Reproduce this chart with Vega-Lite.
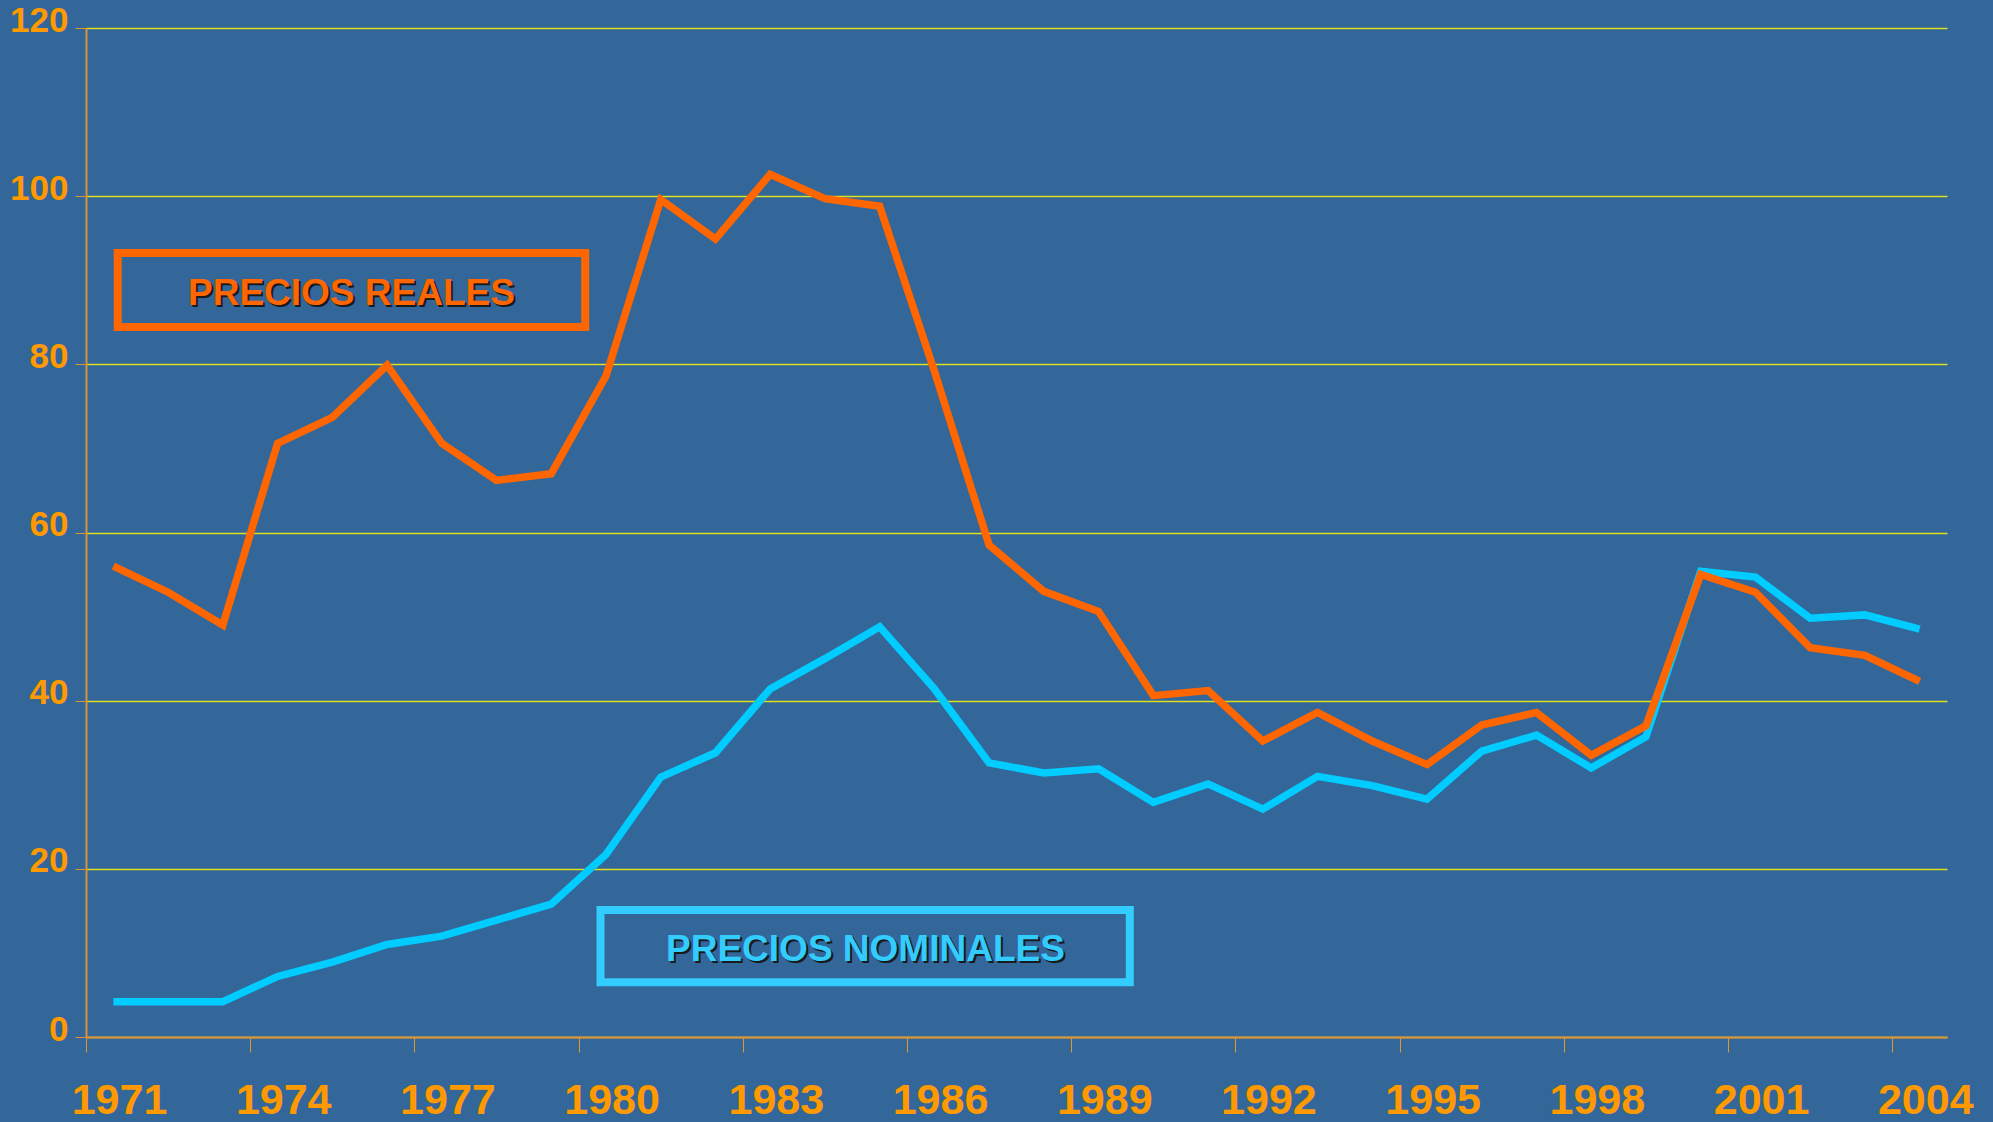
{
  "$schema": "https://vega.github.io/schema/vega-lite/v6.json",
  "width": 1861,
  "height": 1009,
  "autosize": {"type": "none"},
  "padding": {"left": 86, "top": 28, "right": 46, "bottom": 85},
  "background": "#336699",
  "config": {
    "view": {"stroke": null},
    "font": "Liberation Sans"
  },
  "datasets": {
    "prices": [
      {"year": 1971, "real": 56.0, "nominal": 4.2},
      {"year": 1972, "real": 52.9, "nominal": 4.2},
      {"year": 1973, "real": 49.0, "nominal": 4.2},
      {"year": 1974, "real": 70.6, "nominal": 7.2},
      {"year": 1975, "real": 73.7, "nominal": 8.9},
      {"year": 1976, "real": 79.9, "nominal": 11.0},
      {"year": 1977, "real": 70.6, "nominal": 12.0},
      {"year": 1978, "real": 66.2, "nominal": 13.9},
      {"year": 1979, "real": 67.0, "nominal": 15.8},
      {"year": 1980, "real": 78.6, "nominal": 21.7},
      {"year": 1981, "real": 99.6, "nominal": 30.9},
      {"year": 1982, "real": 94.9, "nominal": 33.8},
      {"year": 1983, "real": 102.6, "nominal": 41.4},
      {"year": 1984, "real": 99.7, "nominal": 45.0},
      {"year": 1985, "real": 98.8, "nominal": 48.8},
      {"year": 1986, "real": 79.2, "nominal": 41.4},
      {"year": 1987, "real": 58.5, "nominal": 32.6},
      {"year": 1988, "real": 53.0, "nominal": 31.4},
      {"year": 1989, "real": 50.6, "nominal": 31.9},
      {"year": 1990, "real": 40.6, "nominal": 27.9},
      {"year": 1991, "real": 41.2, "nominal": 30.1},
      {"year": 1992, "real": 35.2, "nominal": 27.1},
      {"year": 1993, "real": 38.6, "nominal": 31.0},
      {"year": 1994, "real": 35.2, "nominal": 29.9},
      {"year": 1995, "real": 32.4, "nominal": 28.3},
      {"year": 1996, "real": 37.1, "nominal": 34.0},
      {"year": 1997, "real": 38.6, "nominal": 35.9},
      {"year": 1998, "real": 33.5, "nominal": 32.0},
      {"year": 1999, "real": 37.0, "nominal": 35.7},
      {"year": 2000, "real": 55.0, "nominal": 55.4},
      {"year": 2001, "real": 52.9, "nominal": 54.7},
      {"year": 2002, "real": 46.3, "nominal": 49.8},
      {"year": 2003, "real": 45.4, "nominal": 50.2},
      {"year": 2004, "real": 42.3, "nominal": 48.5}
    ],
    "labels": [
      {"label": "PRECIOS REALES", "x_start": 1971.08, "x_end": 1979.62, "y_low": 84.44, "y_high": 93.24, "x_text": 1975.35, "y_text": 87.0},
      {"label": "PRECIOS NOMINALES", "x_start": 1979.9, "x_end": 1989.57, "y_low": 6.5, "y_high": 15.1, "x_text": 1984.74, "y_text": 9.07}
    ]
  },
  "layer": [
    {
      "data": {"name": "prices"},
      "mark": {"type": "line", "color": "#00CCFF", "strokeWidth": 7.5},
      "encoding": {
        "x": {
          "field": "year",
          "type": "quantitative",
          "scale": {"domain": [1970.5, 2004.5], "nice": false, "zero": false},
          "axis": {
            "values": [1970.5, 1973.5, 1976.5, 1979.5, 1982.5, 1985.5, 1988.5, 1991.5, 1994.5, 1997.5, 2000.5, 2003.5],
            "labelExpr": "format(datum.value + 0.5, 'd')",
            "labelOffset": 33,
            "labelFlush": false,
            "labelOverlap": false,
            "labelFont": "Liberation Sans",
            "labelFontWeight": "bold",
            "labelFontSize": 43,
            "labelColor": "#FF9900",
            "labelPadding": 27,
            "tickSize": 15,
            "tickColor": "#E0952F",
            "domainColor": "#D9913A",
            "domainWidth": 2,
            "grid": false,
            "title": null,
            "zindex": 1
          }
        },
        "y": {
          "field": "nominal",
          "type": "quantitative",
          "scale": {"domain": [0, 120], "nice": false},
          "axis": {
            "values": [0, 20, 40, 60, 80, 100, 120],
            "labelFont": "Liberation Sans",
            "labelFontWeight": "bold",
            "labelFontSize": 35,
            "labelColor": "#FF9900",
            "labelPadding": 7,
            "labelOffset": -8,
            "tickSize": 11,
            "tickColor": "#E0952F",
            "domainColor": "#D9913A",
            "domainWidth": 2,
            "grid": true,
            "gridColor": "#E0E020",
            "gridWidth": 1.3,
            "title": null
          }
        }
      }
    },
    {
      "data": {"name": "prices"},
      "mark": {"type": "line", "color": "#FF6600", "strokeWidth": 7.5},
      "encoding": {
        "x": {"field": "year", "type": "quantitative"},
        "y": {"field": "real", "type": "quantitative"}
      }
    },
    {
      "data": {"name": "labels"},
      "mark": {"type": "rect", "filled": false, "strokeWidth": 8},
      "encoding": {
        "x": {"field": "x_start", "type": "quantitative"},
        "x2": {"field": "x_end"},
        "y": {"field": "y_low", "type": "quantitative"},
        "y2": {"field": "y_high"},
        "color": {
          "field": "label",
          "type": "nominal",
          "scale": {"domain": ["PRECIOS REALES", "PRECIOS NOMINALES"], "range": ["#FF6600", "#33CCFF"]},
          "legend": null
        }
      }
    },
    {
      "data": {"name": "labels"},
      "mark": {"type": "text", "font": "Liberation Sans", "fontWeight": "bold", "fontSize": 37, "align": "center", "baseline": "alphabetic", "dx": 2, "dy": 2, "color": "#1a1a1a"},
      "encoding": {
        "x": {"field": "x_text", "type": "quantitative"},
        "y": {"field": "y_text", "type": "quantitative"},
        "text": {"field": "label"}
      }
    },
    {
      "data": {"name": "labels"},
      "mark": {"type": "text", "font": "Liberation Sans", "fontWeight": "bold", "fontSize": 37, "align": "center", "baseline": "alphabetic"},
      "encoding": {
        "x": {"field": "x_text", "type": "quantitative"},
        "y": {"field": "y_text", "type": "quantitative"},
        "text": {"field": "label"},
        "color": {"field": "label", "type": "nominal", "legend": null}
      }
    }
  ]
}
